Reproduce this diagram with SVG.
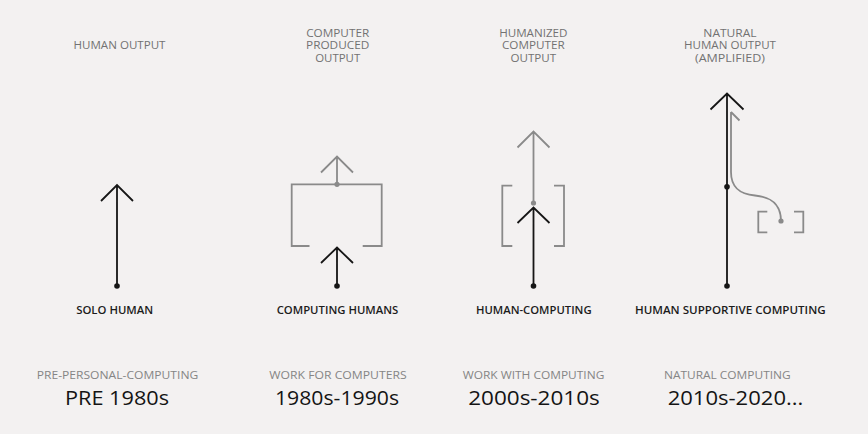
<svg xmlns="http://www.w3.org/2000/svg" width="868" height="434" viewBox="0 0 868 434">
<style>
.t{font-family:"Open Sans","Liberation Sans",sans-serif;text-anchor:middle}
.top{font-size:10.5px;fill:#727272;font-weight:500}
.lab{font-size:11px;fill:#1c1c1c;font-weight:600}
.cat{font-size:11px;fill:#858585;font-weight:500}
.yr{font-size:19.5px;fill:#141414;font-weight:500}
.k{fill:none;stroke:#161616;stroke-width:1.8}
.g{fill:none;stroke:#8a8a8a;stroke-width:1.8}
.dk{fill:#161616}
.dg{fill:#8a8a8a}
</style>
<rect width="868" height="434" fill="#f3f1f1"/>
<g id="connectors">
<path class="k" d="M117,286V186M101,201L117,185L133,201"/>
<path class="g" d="M337,184V157M321,172.5L337,156.5L353,172.5"/>
<path class="k" d="M337,286V248M321,263L337,247.5L353,263"/>
<path class="g" d="M533.5,202V132M517.5,147.5L533.5,131.5L549.5,147.5"/>
<path class="k" d="M533.5,286V208M517.5,223L533.5,207.5L549.5,223"/>
<path class="g" d="M781,221C781,203 770,197 755,195.5C739,194 731,187 731,172V112M731,112L739.5,120.5"/>
<path class="k" d="M727,286V94M710.5,109.5L727,93.5L743.5,109.5"/>
</g>
<g id="col1">
<text class="t top" x="119.5" y="48.5" textLength="92" lengthAdjust="spacingAndGlyphs">HUMAN OUTPUT</text>
<circle class="dk" cx="117" cy="286" r="2.8"/>
<text class="t lab" x="114.7" y="313.5" textLength="77" lengthAdjust="spacingAndGlyphs">SOLO HUMAN</text>
<text class="t cat" x="117.5" y="378.5" textLength="161.5" lengthAdjust="spacingAndGlyphs">PRE-PERSONAL-COMPUTING</text>
<text class="t yr" x="117" y="405" textLength="104" lengthAdjust="spacingAndGlyphs">PRE 1980s</text>
</g>
<g id="col2">
<text class="t top" x="337.7" y="36.5" textLength="63" lengthAdjust="spacingAndGlyphs">COMPUTER</text>
<text class="t top" x="337.7" y="49" textLength="63.3" lengthAdjust="spacingAndGlyphs">PRODUCED</text>
<text class="t top" x="337.7" y="61.5" textLength="45" lengthAdjust="spacingAndGlyphs">OUTPUT</text>
<path class="g" d="M309.5,246H291.7V184.3H381.7V246H362.7"/>
<circle class="dg" cx="337" cy="184.3" r="2.6"/>
<circle class="dk" cx="337" cy="286" r="2.8"/>
<text class="t lab" x="337.5" y="313.5" textLength="121.7" lengthAdjust="spacingAndGlyphs">COMPUTING HUMANS</text>
<text class="t cat" x="338" y="378.5" textLength="137.3" lengthAdjust="spacingAndGlyphs">WORK FOR COMPUTERS</text>
<text class="t yr" x="337" y="405" textLength="124" lengthAdjust="spacingAndGlyphs">1980s-1990s</text>
</g>
<g id="col3">
<text class="t top" x="533.3" y="36.7" textLength="68.3" lengthAdjust="spacingAndGlyphs">HUMANIZED</text>
<text class="t top" x="533.3" y="49" textLength="62.7" lengthAdjust="spacingAndGlyphs">COMPUTER</text>
<text class="t top" x="533.3" y="61.7" textLength="45.7" lengthAdjust="spacingAndGlyphs">OUTPUT</text>
<path class="g" d="M512.3,185.7H502.3V246H512.3M554,185.7H564V246H554"/>
<circle class="dg" cx="533.5" cy="203" r="2.6"/>
<circle class="dk" cx="533.5" cy="286" r="2.8"/>
<text class="t lab" x="533.8" y="313.5" textLength="115.7" lengthAdjust="spacingAndGlyphs">HUMAN-COMPUTING</text>
<text class="t cat" x="533.5" y="378.5" textLength="141.7" lengthAdjust="spacingAndGlyphs">WORK WITH COMPUTING</text>
<text class="t yr" x="534" y="405" textLength="131.7" lengthAdjust="spacingAndGlyphs">2000s-2010s</text>
</g>
<g id="col4">
<text class="t top" x="730" y="36.7" textLength="53.3" lengthAdjust="spacingAndGlyphs">NATURAL</text>
<text class="t top" x="730" y="49" textLength="92" lengthAdjust="spacingAndGlyphs">HUMAN OUTPUT</text>
<text class="t top" x="730" y="61.7" textLength="70" lengthAdjust="spacingAndGlyphs">(AMPLIFIED)</text>
<path class="g" d="M767.3,211.7H758.3V232.3H767.3M794,211.7H803.3V232.3H794"/>
<circle class="dg" cx="781" cy="221" r="2.6"/>
<circle class="dk" cx="727" cy="186.7" r="2.8"/>
<circle class="dk" cx="727" cy="286" r="2.8"/>
<text class="t lab" x="730.3" y="313.5" textLength="190.7" lengthAdjust="spacingAndGlyphs">HUMAN SUPPORTIVE COMPUTING</text>
<text class="t cat" x="727.3" y="378.5" textLength="126.7" lengthAdjust="spacingAndGlyphs">NATURAL COMPUTING</text>
<text class="t yr" x="735.5" y="405" textLength="135.7" lengthAdjust="spacingAndGlyphs">2010s-2020...</text>
</g>
</svg>
